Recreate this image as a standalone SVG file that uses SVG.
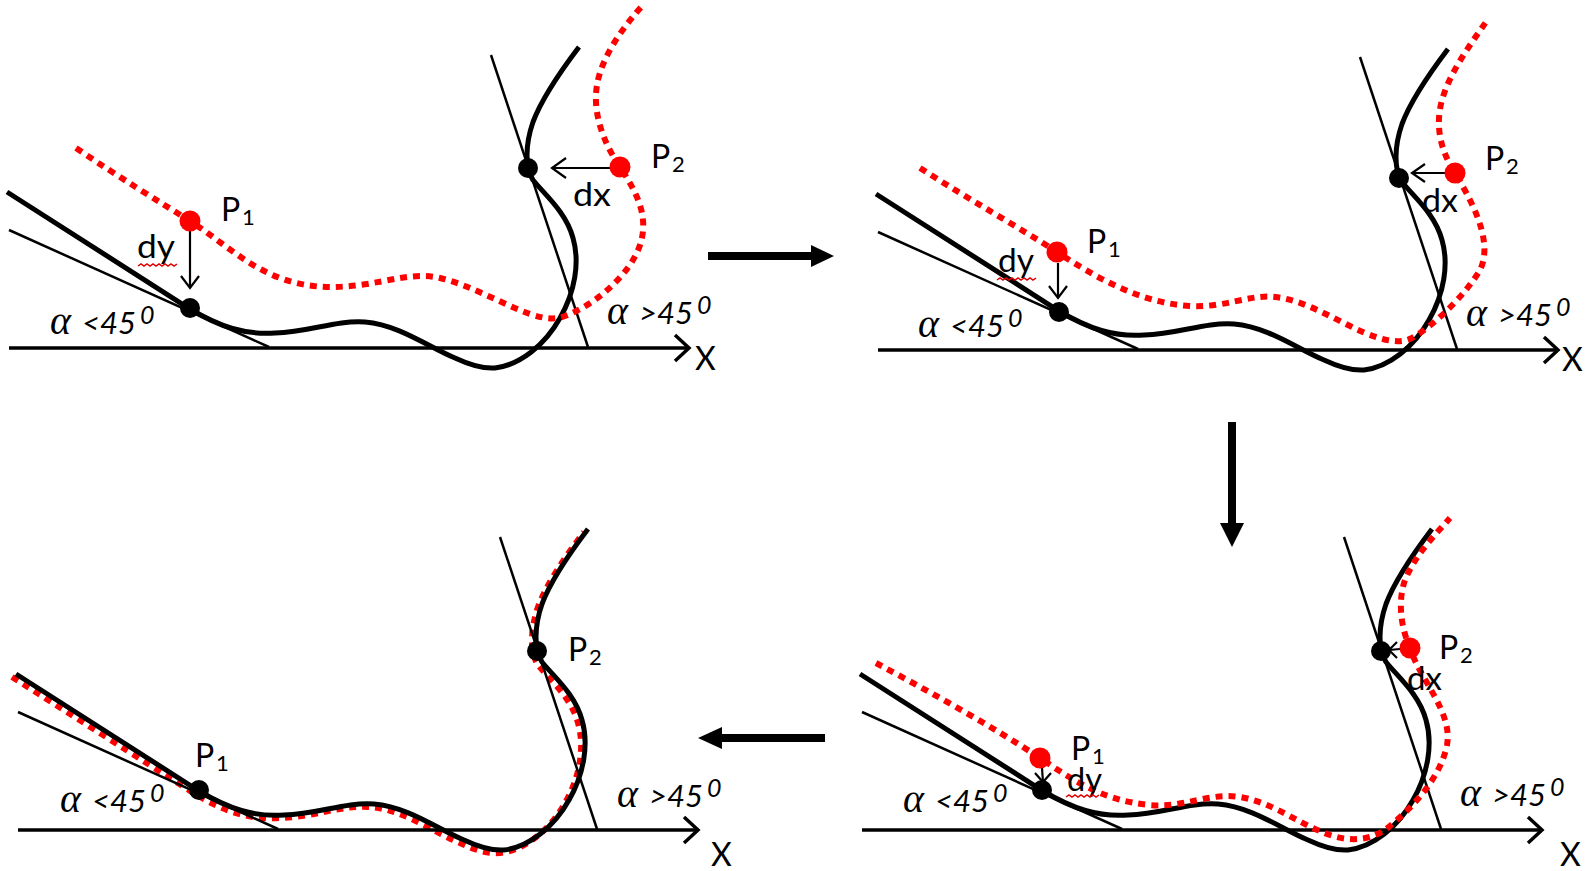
<svg xmlns="http://www.w3.org/2000/svg" xmlns:xlink="http://www.w3.org/1999/xlink" width="1596" height="871" viewBox="0 0 1596 871">
<style>
.axis{stroke:#000;stroke-width:3.5;fill:none}
.thin{stroke:#000;stroke-width:2.5;fill:none}
.thick{stroke:#000;stroke-width:5;fill:none}
.red{stroke:#ff0000;stroke-width:6;stroke-dasharray:7 6;fill:none}
.sm{stroke:#000;stroke-width:2.2;fill:none}
.sq{stroke:#e00000;stroke-width:1.5;fill:none}
.big{stroke:#000;stroke-width:8}
.rd{fill:#ff0000}
.bd{fill:#000}
text{font-family:Lato,"Liberation Sans",sans-serif;fill:#000}
.lbl{font-size:32px}
.sub{font-size:22px}
.ang{font-size:31px;font-style:italic}
.alpha{font-family:"Liberation Serif",serif;font-style:italic;font-size:40px}
.sup{font-size:25px}
.X{font-size:32px}
</style>
<defs>
<path id="curve" d="M7,192 C100,251 160,290 190,309 C220,327 245,335 275,333 C310,332 335,320 365,322 C400,325 430,348 455,358 C470,365 482,369 495,368 C520,365 545,345 560,318 C575,292 580,262 573,238 C566,212 545,195 533,180 C525,168 525,145 533,122 C542,98 560,72 579,47"/>
<g id="frame">
<line class="axis" x1="9" y1="348" x2="689" y2="348"/>
<polyline class="axis" points="675,335 689,348 675,361"/>
<line class="thin" x1="9" y1="230" x2="269" y2="347"/>
<line class="thin" x1="491" y1="55" x2="588" y2="347"/>
<use xlink:href="#curve" class="thick"/>
</g>
</defs>

<g id="panel1">
<use xlink:href="#frame"/>
<path class="red" d="M76,148 C120,178 160,202 190,221 C220,240 245,265 280,278 C310,289 335,288 360,285 C390,281 415,272 440,278 C470,285 500,303 530,314 C545,319 555,320 565,316 C595,305 630,275 640,245 C650,215 635,190 620,167 C605,145 592,115 597,85 C602,55 625,25 643,5"/>
<g id="p1-dy"><line class="sm" x1="190" y1="231" x2="190" y2="288"/><polyline class="sm" points="181,276 190,288 199,276"/></g>
<g id="p1-dx"><line class="sm" x1="610" y1="168" x2="552" y2="168"/><polyline class="sm" points="566,158 552,168 566,178"/></g>
<circle class="rd" cx="190" cy="221" r="10.5"/>
<circle class="bd" cx="190" cy="308" r="10"/>
<circle class="rd" cx="620" cy="167" r="10.5"/>
<circle class="bd" cx="528" cy="168" r="10"/>
<text class="lbl" x="221" y="221">P</text><text class="sub" x="242" y="225">1</text>
<text class="lbl" x="651" y="168">P</text><text class="sub" x="672" y="172">2</text>
<text class="lbl" x="137" y="258" textLength="38" lengthAdjust="spacingAndGlyphs">dy</text>
<path class="sq" d="M138,266 l3,-2 3,2 3,-2 3,2 3,-2 3,2 3,-2 3,2 3,-2 3,2 3,-2 3,2 3,-2"/>
<text class="lbl" x="573" y="206" textLength="38" lengthAdjust="spacingAndGlyphs">dx</text>
<text class="ang" y="334"><tspan class="alpha" x="50">α</tspan><tspan x="82">&lt;45</tspan><tspan class="sup" x="140" dy="-10">0</tspan></text>
<text class="ang" y="324"><tspan class="alpha" x="607">α</tspan><tspan x="639">&gt;45</tspan><tspan class="sup" x="697" dy="-10">0</tspan></text>
<text class="X" x="695" y="370">X</text>
</g>

<g id="panel2">
<use xlink:href="#frame" transform="translate(869,2)"/>
<path class="red" d="M920,168 C970,200 1020,228 1057,252 C1095,277 1140,303 1190,306 C1225,308 1250,294 1275,297 C1305,300 1335,320 1365,333 C1385,341 1400,344 1412,338 C1435,325 1465,295 1480,270 C1495,240 1468,195 1455,173 C1440,150 1435,125 1442,100 C1450,72 1470,45 1486,22"/>
<g id="p2-dy"><line class="sm" x1="1058" y1="263" x2="1058" y2="298"/><polyline class="sm" points="1049,286 1058,298 1067,286"/></g>
<g id="p2-dx"><line class="sm" x1="1445" y1="173" x2="1412" y2="173"/><polyline class="sm" points="1425,164 1412,173 1425,182"/></g>
<circle class="rd" cx="1057" cy="252" r="10.5"/>
<circle class="bd" cx="1059" cy="312" r="10"/>
<circle class="rd" cx="1455" cy="173" r="10.5"/>
<circle class="bd" cx="1399" cy="178" r="10"/>
<text class="lbl" x="1087" y="253">P</text><text class="sub" x="1108" y="257">1</text>
<text class="lbl" x="1485" y="170">P</text><text class="sub" x="1506" y="174">2</text>
<text class="lbl" x="998" y="272" textLength="36" lengthAdjust="spacingAndGlyphs">dy</text>
<path class="sq" d="M997,280 l3,-2 3,2 3,-2 3,2 3,-2 3,2 3,-2 3,2 3,-2 3,2 3,-2 3,2 3,-2"/>
<text class="lbl" x="1422" y="212" textLength="36" lengthAdjust="spacingAndGlyphs">dx</text>
<text class="ang" y="337"><tspan class="alpha" x="918">α</tspan><tspan x="950">&lt;45</tspan><tspan class="sup" x="1008" dy="-10">0</tspan></text>
<text class="ang" y="326"><tspan class="alpha" x="1466">α</tspan><tspan x="1498">&gt;45</tspan><tspan class="sup" x="1556" dy="-10">0</tspan></text>
<text class="X" x="1562" y="371">X</text>
</g>

<g id="panel3">
<use xlink:href="#curve" class="red" transform="translate(5,485)"/>
<use xlink:href="#frame" transform="translate(9,482)"/>
<circle class="bd" cx="199" cy="790" r="10"/>
<circle class="bd" cx="537" cy="651" r="10"/>
<text class="lbl" x="195" y="767">P</text><text class="sub" x="216" y="771">1</text>
<text class="lbl" x="568" y="661">P</text><text class="sub" x="589" y="665">2</text>
<text class="ang" y="812"><tspan class="alpha" x="60">α</tspan><tspan x="92">&lt;45</tspan><tspan class="sup" x="150" dy="-10">0</tspan></text>
<text class="ang" y="807"><tspan class="alpha" x="617">α</tspan><tspan x="649">&gt;45</tspan><tspan class="sup" x="707" dy="-10">0</tspan></text>
<text class="X" x="711" y="866">X</text>
</g>

<g id="panel4">
<use xlink:href="#frame" transform="translate(853,482)"/>
<path class="red" d="M876,663 C930,692 990,725 1040,758 C1070,778 1100,800 1149,805 C1185,808 1210,792 1240,797 C1275,803 1300,825 1330,835 C1350,842 1370,840 1385,830 C1410,810 1440,780 1447,745 C1453,712 1420,680 1410,648 C1400,625 1398,600 1405,580 C1415,555 1435,535 1450,518"/>
<g id="p4-dy"><line class="sm" x1="1042" y1="768" x2="1043" y2="782"/><polyline class="sm" points="1035,773 1043,782 1051,773"/></g>
<g id="p4-dx"><line class="sm" x1="1400" y1="649" x2="1389" y2="650"/><polyline class="sm" points="1397,642 1389,650 1397,658"/></g>
<circle class="rd" cx="1040" cy="758" r="10.5"/>
<circle class="bd" cx="1042" cy="790" r="10"/>
<circle class="rd" cx="1410" cy="648" r="10.5"/>
<circle class="bd" cx="1381" cy="651" r="10"/>
<text class="lbl" x="1071" y="760">P</text><text class="sub" x="1092" y="764">1</text>
<text class="lbl" x="1067" y="791" textLength="35" lengthAdjust="spacingAndGlyphs">dy</text>
<path class="sq" d="M1066,797 l3,-2 3,2 3,-2 3,2 3,-2 3,2 3,-2 3,2 3,-2 3,2 3,-2"/>
<text class="lbl" x="1439" y="659">P</text><text class="sub" x="1460" y="663">2</text>
<text class="lbl" x="1407" y="690" textLength="35" lengthAdjust="spacingAndGlyphs">dx</text>
<text class="ang" y="812"><tspan class="alpha" x="903">α</tspan><tspan x="935">&lt;45</tspan><tspan class="sup" x="993" dy="-10">0</tspan></text>
<text class="ang" y="806"><tspan class="alpha" x="1460">α</tspan><tspan x="1492">&gt;45</tspan><tspan class="sup" x="1550" dy="-10">0</tspan></text>
<text class="X" x="1560" y="866">X</text>
</g>

<g id="connectors">
<g id="arrow-1-2"><line class="big" x1="708" y1="256" x2="813" y2="256"/><polygon class="bd" points="811,245 834,256 811,267"/></g>
<g id="arrow-2-4"><line class="big" x1="1232" y1="422" x2="1232" y2="525"/><polygon class="bd" points="1220,523 1232,547 1244,523"/></g>
<g id="arrow-4-3"><line class="big" x1="825" y1="738" x2="720" y2="738"/><polygon class="bd" points="722,727 698,738 722,749"/></g>
</g>
</svg>
